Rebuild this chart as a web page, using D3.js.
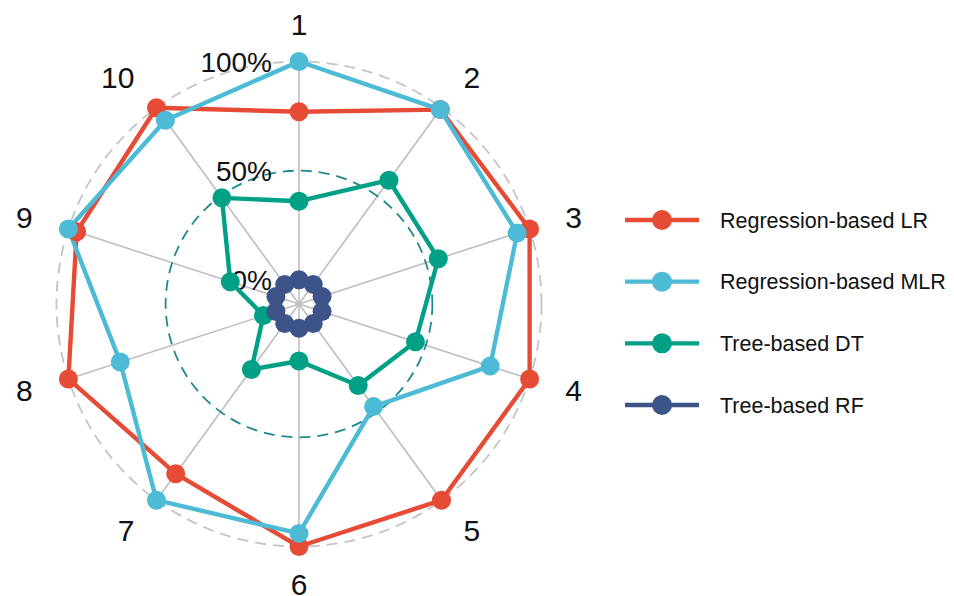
<!DOCTYPE html>
<html><head><meta charset="utf-8">
<script src="https://cdn.jsdelivr.net/npm/d3@7"></script>
<style>body{margin:0;background:#fff}svg{display:block}text{font-family:"Liberation Sans",Arial,sans-serif}</style>
</head><body>
<svg id="c" width="954" height="596"></svg>
<script>
const axes = ["1","2","3","4","5","6","7","8","9","10"];
const seriesNames = ["Regression-based LR","Regression-based MLR","Tree-based DT","Tree-based RF"];
const lrValues  = [0.77,0.99,1.00,1.00,1.00,1.00,0.85,1.00,0.96,1.00];
const mlrValues = [1.00,0.99,0.94,0.81,0.47,0.94,1.00,0.75,1.00,0.93];
const dtValues  = [0.36,0.59,0.56,0.45,0.35,0.15,0.26,0.06,0.22,0.49];
const rfValues  = [0,0,0,0,0,0,0,0,0,0];
const gridValues = [0,0.5,1];
const gridLabels = ["0%","50%","100%"];
const colors = ["#E64B35","#4DBBD5","#00A087","#3C5488"];

const allValues = [lrValues, mlrValues, dtValues, rfValues];
const cx = 299, cy = 304, R = 242.5, L = 280;
const svg = d3.select("#c");
// ggradar-style radial scale: centre at grid.min - (grid.max-grid.min)/9
const r = d3.scaleLinear().domain([-1/9, 1]).range([0, R]);
const ang = d3.scaleLinear().domain([0, axes.length]).range([0, 2*Math.PI]);
const px = (i, v) => cx + r(v) * Math.sin(ang(i));
const py = (i, v) => cy - r(v) * Math.cos(ang(i));

const g = svg.append("g");
g.selectAll("line.ax").data(axes).join("line")
  .attr("x1", cx).attr("y1", cy)
  .attr("x2", (d,i)=>px(i,1)).attr("y2", (d,i)=>py(i,1))
  .attr("stroke", "#bebebe").attr("stroke-width", 1.6);
g.selectAll("circle.grid").data(gridValues).join("circle")
  .attr("cx", cx).attr("cy", cy).attr("r", d=>r(d))
  .attr("fill","none")
  .attr("stroke", (d,i)=> i===1 ? "#1F8A8F" : "#c4c4c4")
  .attr("stroke-width", 1.8)
  .attr("stroke-dasharray", "11,7");
g.selectAll("text.gl").data(gridValues).join("text")
  .attr("x", cx - 27).attr("y", d => cy - r(d))
  .attr("text-anchor","end").attr("dy","0.36em")
  .attr("font-size", 28).attr("fill","#111")
  .text((d,i)=>gridLabels[i]);
g.selectAll("text.al").data(axes).join("text")
  .attr("x", (d,i)=> cx + L*Math.sin(ang(i)))
  .attr("y", (d,i)=> cy - L*Math.cos(ang(i)))
  .attr("text-anchor",(d,i)=>{const s=Math.sin(ang(i)); return Math.abs(s)<0.01?"middle":(s>0?"start":"end");})
  .attr("dy","0.36em")
  .attr("font-size", 30).attr("fill","#111")
  .text(d=>d);

const line = d3.line().x(d=>d[0]).y(d=>d[1]).curve(d3.curveLinearClosed);
allValues.forEach((vals, s) => {
  g.append("path")
    .attr("d", line(vals.map((v,i)=>[px(i,v), py(i,v)])))
    .attr("fill","none").attr("stroke", colors[s]).attr("stroke-width", 4.4)
    .attr("stroke-linejoin","round");
});
allValues.forEach((vals, s) => {
  g.selectAll(null).data(vals).join("circle")
    .attr("cx",(v,i)=>px(i,v)).attr("cy",(v,i)=>py(i,v))
    .attr("r", 9.5).attr("fill", colors[s]);
});

const lg = svg.append("g");
const ly = d3.scalePoint().domain(seriesNames).range([220, 405]);
seriesNames.forEach((n, s) => {
  const y = ly(n);
  lg.append("line").attr("x1", 625).attr("x2", 699).attr("y1", y).attr("y2", y)
    .attr("stroke", colors[s]).attr("stroke-width", 4.4);
  lg.append("circle").attr("cx", 662).attr("cy", y).attr("r", 10).attr("fill", colors[s]);
  lg.append("text").attr("x", 720).attr("y", y).attr("dy","0.35em")
    .attr("font-size", 21.5).attr("fill","#111").text(n);
});
</script>
</body></html>
